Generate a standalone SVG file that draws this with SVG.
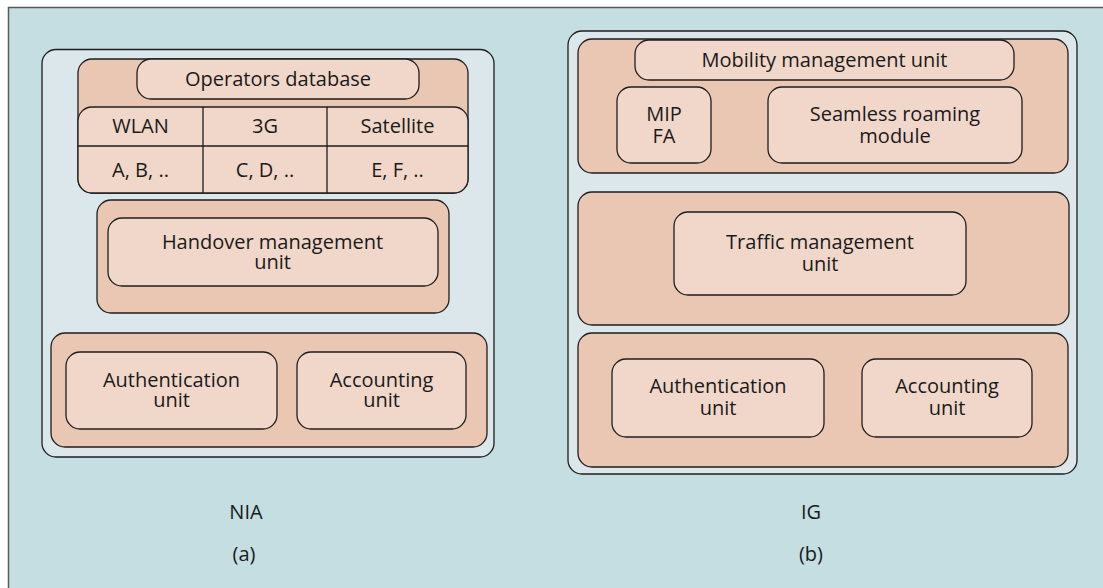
<svg xmlns="http://www.w3.org/2000/svg" width="1103" height="588" viewBox="0 0 1103 588">
<style>
  .bg { fill: #c4dee2; stroke: #5a5a5a; stroke-width: 1.5; }
  .panel { fill: #dce7eb; stroke: #1e1e1e; stroke-width: 1.3; }
  .outer { fill: #eac7b3; stroke: #1e1e1e; stroke-width: 1.3; }
  .inner { fill: #f0d7ca; stroke: #1e1e1e; stroke-width: 1.3; }
  .line { stroke: #1e1e1e; stroke-width: 1.3; fill: none; }
  text { font-family: "Open Sans", "Noto Sans", "Liberation Sans", sans-serif; font-size: 20px; fill: #1a1a1a; text-anchor: middle; }
</style>
<rect class="bg" x="8.5" y="7.5" width="1100" height="590"/>

<g id="nia">
  <rect class="panel" x="42" y="49.5" width="452" height="407.5" rx="14"/>
  <g id="operators-db">
    <rect class="outer" x="78" y="59" width="390" height="134" rx="14"/>
    <rect class="inner" x="137" y="59" width="282" height="40" rx="14"/>
    <text x="278" y="86">Operators database</text>
    <rect class="inner" x="78" y="107" width="390" height="86" rx="14"/>
    <line class="line" x1="78" y1="146" x2="468" y2="146"/>
    <line class="line" x1="203" y1="107" x2="203" y2="193"/>
    <line class="line" x1="327" y1="107" x2="327" y2="193"/>
    <text x="140.5" y="133">WLAN</text>
    <text x="265" y="133">3G</text>
    <text x="397.5" y="133">Satellite</text>
    <text x="140.5" y="177">A, B, ..</text>
    <text x="265" y="177">C, D, ..</text>
    <text x="397.5" y="177">E, F, ..</text>
  </g>
  <g id="handover">
    <rect class="outer" x="97" y="200" width="352" height="113" rx="14"/>
    <rect class="inner" x="108" y="218" width="330" height="68" rx="14"/>
    <text x="272.5" y="249">Handover management</text>
    <text x="272.5" y="269">unit</text>
  </g>
  <g id="nia-auth-acct">
    <rect class="outer" x="51" y="333" width="436" height="114" rx="14"/>
    <rect class="inner" x="66" y="352" width="211" height="77" rx="14"/>
    <text x="171.5" y="387">Authentication</text>
    <text x="171.5" y="407">unit</text>
    <rect class="inner" x="297" y="352" width="169" height="77" rx="14"/>
    <text x="381.5" y="387">Accounting</text>
    <text x="381.5" y="407">unit</text>
  </g>
  <text x="246" y="519">NIA</text>
  <text x="244" y="561">(a)</text>
</g>

<g id="ig">
  <rect class="panel" x="568" y="31" width="509" height="443" rx="14"/>
  <g id="mobility">
    <rect class="outer" x="578" y="39" width="490" height="134" rx="14"/>
    <rect class="inner" x="635" y="40" width="379" height="40" rx="14"/>
    <text x="824.5" y="67">Mobility management unit</text>
    <rect class="inner" x="617" y="87" width="94" height="76" rx="14"/>
    <text x="664" y="121">MIP</text>
    <text x="664" y="143">FA</text>
    <rect class="inner" x="768" y="87" width="254" height="76" rx="14"/>
    <text x="895" y="121">Seamless roaming</text>
    <text x="895" y="143">module</text>
  </g>
  <g id="traffic">
    <rect class="outer" x="578" y="192" width="491" height="133" rx="14"/>
    <rect class="inner" x="674" y="212" width="292" height="83" rx="14"/>
    <text x="820" y="249">Traffic management</text>
    <text x="820" y="271">unit</text>
  </g>
  <g id="ig-auth-acct">
    <rect class="outer" x="578" y="333" width="490" height="134" rx="14"/>
    <rect class="inner" x="612" y="359" width="212" height="78" rx="14"/>
    <text x="718" y="393">Authentication</text>
    <text x="718" y="415">unit</text>
    <rect class="inner" x="862" y="359" width="170" height="78" rx="14"/>
    <text x="947" y="393">Accounting</text>
    <text x="947" y="415">unit</text>
  </g>
  <text x="811" y="519">IG</text>
  <text x="811" y="561">(b)</text>
</g>
<g id="connectors"/>
</svg>
